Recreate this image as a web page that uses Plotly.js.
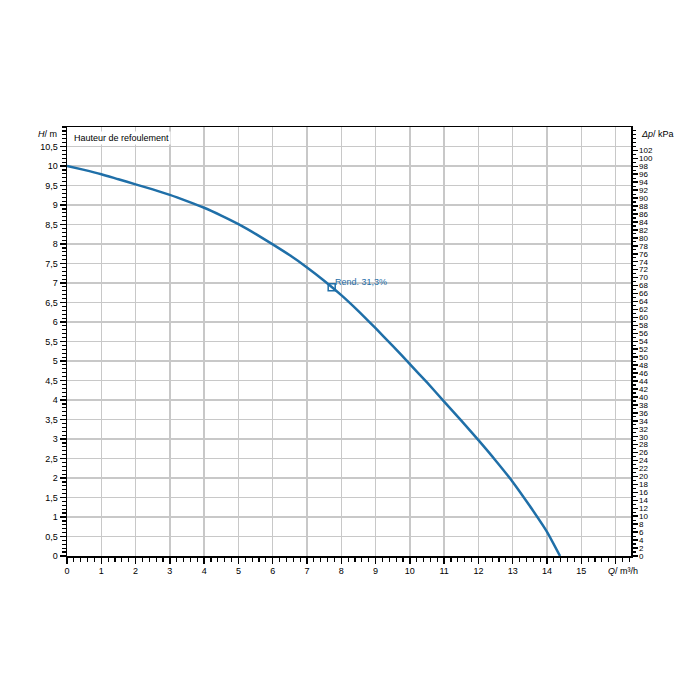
<!DOCTYPE html>
<html>
<head>
<meta charset="utf-8">
<script src="https://cdn.plot.ly/plotly-3.0.1.min.js"></script>
<style>html,body{margin:0;padding:0;background:#fff;}#chart{width:700px;height:700px;}</style>
</head>
<body>
<div id="chart"></div>
<script>
// Data
const flowQ = [0, 0.5, 1, 1.5, 2, 2.5, 3, 3.5, 4, 4.5, 5, 5.5, 6, 6.5, 7, 7.5, 8, 8.5, 9, 9.5, 10, 10.5, 11, 11.5, 12, 12.5, 13, 13.5, 14, 14.38];
const headH = [10, 9.9, 9.79, 9.66, 9.53, 9.4, 9.26, 9.1, 8.93, 8.73, 8.51, 8.26, 7.99, 7.71, 7.4, 7.06, 6.69, 6.28, 5.84, 5.39, 4.92, 4.45, 3.96, 3.47, 2.97, 2.45, 1.9, 1.28, 0.62, 0];
const opPointQ = [7.72];
const opPointH = [6.89];
const opPointLabel = "Rend. 31,3%";
const xTicks = [0,1,2,3,4,5,6,7,8,9,10,11,12,13,14,15,16];
const xTickText = ["0","1","2","3","4","5","6","7","8","9","10","11","12","13","14","15",""];
const yTicks = [0,0.5,1,1.5,2,2.5,3,3.5,4,4.5,5,5.5,6,6.5,7,7.5,8,8.5,9,9.5,10,10.5];
const yTickText = yTicks.map(v => String(v).replace('.', ','));
const kpaTicks = [];
for (let v = 0; v <= 102; v += 2) kpaTicks.push(v);
const mPerKpa = 0.10197;

const blue = '#1f6fa8';
const font = {family: 'Liberation Sans, Arial, sans-serif', size: 9, color: '#000'};
const fontR = {family: 'Liberation Sans, Arial, sans-serif', size: 8, color: '#000'};

const traces = [
  {x: flowQ, y: headH, type: 'scatter', mode: 'lines', line: {color: blue, width: 2.5, shape: 'spline', smoothing: 0.5}, hoverinfo: 'skip', showlegend: false},
  {x: opPointQ, y: opPointH, type: 'scatter', mode: 'markers',
   marker: {symbol: 'square-open', size: 7, color: blue, line: {width: 1.5}}, showlegend: false},
  {x: [0], y: [0], yaxis: 'y2', type: 'scatter', mode: 'markers', marker: {opacity: 0}, showlegend: false, hoverinfo: 'skip'}
];

const layout = {
  width: 700, height: 700,
  margin: {l: 67, r: 69, t: 127, b: 144},
  paper_bgcolor: '#fff', plot_bgcolor: '#fff',
  font: font,
  showlegend: false,
  xaxis: {
    range: [0, 16.45], tickmode: 'array', tickvals: xTicks, ticktext: xTickText,
    showgrid: true, gridcolor: '#c8c8c8', gridwidth: 1.5,
    showline: true, linecolor: '#000', linewidth: 1.5, mirror: true,
    ticks: 'outside', ticklen: 6, tickwidth: 1.5, tickcolor: '#000',
    minor: {dtick: 0.2, ticks: 'outside', ticklen: 4, tickwidth: 1.2, tickcolor: '#000', showgrid: false},
    zeroline: false, tickfont: font, fixedrange: true
  },
  yaxis: {
    range: [0, 11], tickmode: 'array', tickvals: yTicks, ticktext: yTickText,
    showgrid: true, gridcolor: '#c8c8c8', gridwidth: 1.5,
    showline: true, linecolor: '#000', linewidth: 1.5, mirror: true,
    ticks: 'outside', ticklen: 6, tickwidth: 1.5, tickcolor: '#000',
    minor: {dtick: 0.1, ticks: 'outside', ticklen: 4, tickwidth: 1.2, tickcolor: '#000', showgrid: false},
    zeroline: false, tickfont: font, fixedrange: true
  },
  yaxis2: {
    overlaying: 'y', side: 'right', range: [0, 11 / mPerKpa],
    tickmode: 'array', tickvals: kpaTicks, ticktext: kpaTicks.map(String),
    showgrid: false, showline: true, linecolor: '#000', linewidth: 1.5,
    ticks: 'outside', ticklen: 5, tickwidth: 1.5, tickcolor: '#000',
    minor: {dtick: 1, ticks: 'outside', ticklen: 3, tickwidth: 1.2, tickcolor: '#000', showgrid: false},
    zeroline: false, tickfont: fontR, fixedrange: true
  },
  annotations: [
    {xref: 'x', yref: 'y', x: opPointQ[0], y: opPointH[0], xanchor: 'left', yanchor: 'middle', xshift: 1, yshift: 5,
     showarrow: false, text: opPointLabel, font: {family: font.family, size: 9, color: blue}},
    {xref: 'paper', yref: 'paper', x: 0.008, y: 0.99, xanchor: 'left', yanchor: 'top', showarrow: false,
     text: 'Hauteur de refoulement', font: font, bgcolor: '#fff'},
    {xref: 'paper', yref: 'paper', x: -0.015, y: 1.0, xanchor: 'right', yanchor: 'top', showarrow: false,
     text: '<i>H</i>/ m', font: font},
    {xref: 'paper', yref: 'paper', x: 1.015, y: 1.0, xanchor: 'left', yanchor: 'top', showarrow: false,
     text: '<i>Δp</i>/ kPa', font: font},
    {xref: 'paper', yref: 'paper', x: 0.985, y: -0.018, xanchor: 'center', yanchor: 'top', showarrow: false,
     text: '<i>Q</i>/ m³/h', font: font}
  ]
};

Plotly.newPlot('chart', traces, layout, {staticPlot: true, displayModeBar: false});
</script>
</body>
</html>
